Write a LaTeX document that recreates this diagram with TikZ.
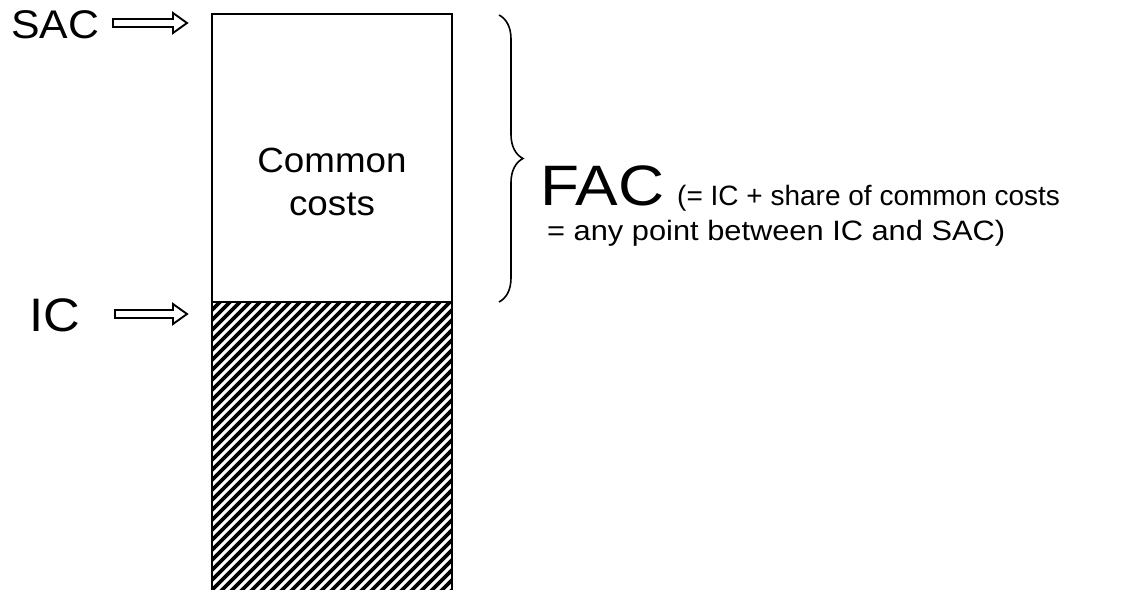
\documentclass[tikz,border=0pt]{standalone}
\usepackage{fontspec}
\setmainfont{Liberation Sans}
\usetikzlibrary{decorations.pathreplacing,calc}

% hollow block arrow from #1 (tail) to #2 (tip)
\newcommand\hollowarrow[2]{%
  \draw[arrowline]
    ($(#1)+(0,-4)$) -- ($(#2)+(-14,-4)$) -- ($(#2)+(-14,-10)$) -- (#2)
    -- ($(#2)+(-14,10)$) -- ($(#2)+(-14,4)$) -- ($(#1)+(0,4)$) -- cycle;}
% text set a little wider than the font's own width
\newcommand\widetext[2]{\scalebox{#1}[1]{#2}}

\tikzset{
  lbl/.style={inner sep=0pt, anchor=base west},
  boxline/.style={line width=2.2pt, line cap=rect},
  arrowline/.style={line width=1.9pt, line join=miter},
  hatchline/.style={line width=3.6pt},
  bracelook/.style={line width=1.6pt, decorate, decoration={brace, amplitude=24pt}},
}

\begin{document}
\begin{tikzpicture}[x=1pt,y=-1pt]
\useasboundingbox (0,0) rectangle (1124,589);

% column corners
\coordinate (topL) at (212,14);
\coordinate (topR) at (452,14);
\coordinate (midL) at (212,302);
\coordinate (midR) at (452,302);
\coordinate (botL) at (212,600);
\coordinate (botR) at (452,600);

% hatched lower part (incremental cost)
\begin{scope}
  \clip (midL) rectangle (botR);
  \foreach \k in {-32,...,26}
    \draw[hatchline] (212+\k*10,620) -- (212+\k*10+330,290);
\end{scope}

% column outline and divider
\draw[boxline] (botL) -- (topL) -- (topR) -- (botR);
\draw[boxline] (midL) -- (midR);

% labels on the left with their arrows
\node[lbl, font=\fontsize{40}{48}\selectfont] (sac) at (11,38) {\widetext{1.07}{SAC}};
\node[lbl, font=\fontsize{47}{56}\selectfont] (ic) at (29,331) {\widetext{1.08}{IC}};
\coordinate (sacTail) at (113,23);
\coordinate (sacTip) at (187,23);
\coordinate (icTail) at (115,314);
\coordinate (icTip) at (187,314);
\hollowarrow{sacTail}{sacTip}
\hollowarrow{icTail}{icTip}

% text inside the upper part
\node[inner sep=0pt, anchor=base, font=\fontsize{35}{42}\selectfont] (common1) at (332,172) {\widetext{1.05}{Common}};
\node[inner sep=0pt, anchor=base, font=\fontsize{35}{42}\selectfont] (common2) at (332,215) {\widetext{1.05}{costs}};

% brace over the common-cost range
\coordinate (braceTop) at (499,15);
\coordinate (braceBot) at (499,302);
\draw[bracelook] (braceTop) -- (braceBot);

% FAC explanation
\node[lbl, font=\fontsize{57}{66}\selectfont] (fac) at (540,205) {\widetext{1.12}{FAC}};
\node[lbl, font=\fontsize{28}{34}\selectfont] (def1) at (677,205) {(= IC + share of common costs};
\node[lbl, font=\fontsize{28}{34}\selectfont] (def2) at (547,240) {\widetext{1.1}{= any point between IC and SAC)}};
\end{tikzpicture}
\end{document}
